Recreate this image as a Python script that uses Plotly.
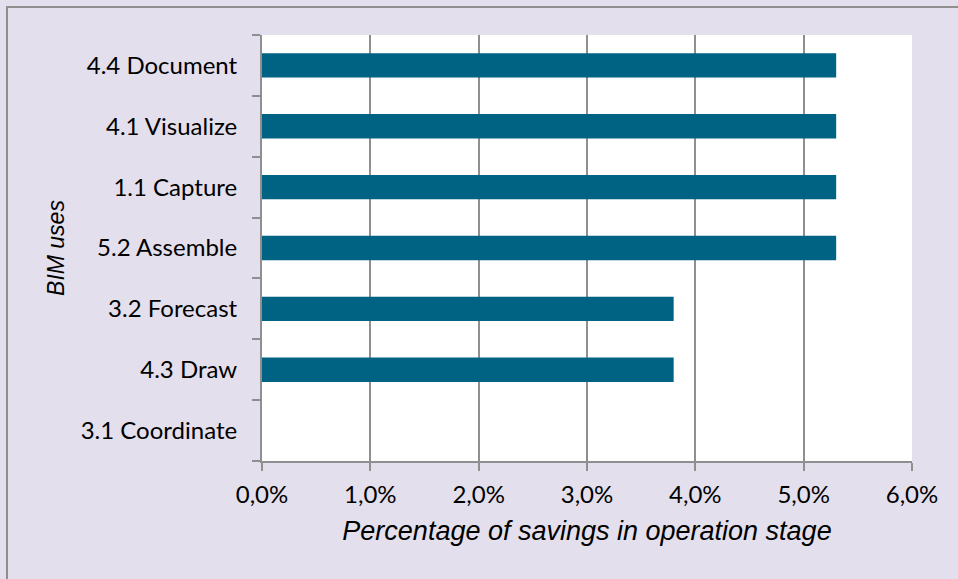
import plotly.graph_objects as go

# BIM uses, listed bottom to top
bim_uses = ["3.1 Coordinate", "4.3 Draw", "3.2 Forecast", "5.2 Assemble",
            "1.1 Capture", "4.1 Visualize", "4.4 Document"]
# Percentage of savings in the operation stage (%)
savings_pct = [0.0, 3.8, 3.8, 5.3, 5.3, 5.3, 5.3]
x_ticks = [0, 1, 2, 3, 4, 5, 6]
x_tick_labels = ["0,0%", "1,0%", "2,0%", "3,0%", "4,0%", "5,0%", "6,0%"]

BG = "#e4dfec"
GRID = "#8f8f8f"
BAR = "#006384"

fig = go.Figure(go.Bar(
    x=savings_pct,
    y=bim_uses,
    orientation="h",
    marker=dict(color=BAR, line=dict(width=0)),
    hoverinfo="skip",
))

W, H = 958, 579
L, R, T, B = 262, 46, 35, 118
pw, ph = W - L - R, H - T - B

fig.update_layout(
    width=W, height=H,
    margin=dict(l=L, r=R, t=T, b=B),
    paper_bgcolor=BG,
    plot_bgcolor="white",
    bargap=0.6,
    showlegend=False,
    font=dict(family="Lato, 'Open Sans', sans-serif", color="#000000", size=24),
    xaxis=dict(
        range=[0, 6],
        tickvals=x_ticks,
        ticktext=x_tick_labels,
        showgrid=True, gridcolor=GRID, gridwidth=2,
        showline=True, linecolor=GRID, linewidth=2,
        ticks="outside", ticklen=8, tickcolor=GRID, tickwidth=2,
        zeroline=False,
        ticklabelstandoff=3,
        title=dict(text="<i>Percentage of savings in operation stage</i>",
                   font=dict(family="Liberation Sans, Arial, sans-serif", size=27),
                   standoff=14),
    ),
    yaxis=dict(
        categoryorder="array", categoryarray=bim_uses,
        showgrid=False,
        showline=True, linecolor=GRID, linewidth=2,
        ticks="outside", tickson="boundaries", ticklen=8, tickcolor=GRID, tickwidth=2,
        ticklabelstandoff=18,
        title=dict(text="<i>BIM uses</i>",
                   font=dict(family="Liberation Sans, Arial, sans-serif", size=23),
                   standoff=10),
    ),
    shapes=[dict(
        type="rect", xref="paper", yref="paper",
        x0=(7 - L) / pw, x1=(W + 20 - L) / pw,
        y0=-(H + 20 - T - ph) / ph, y1=1 + (T - 7) / ph,
        line=dict(color=GRID, width=2), fillcolor="rgba(0,0,0,0)", layer="below",
    )],
)

fig.write_html("out.html")
